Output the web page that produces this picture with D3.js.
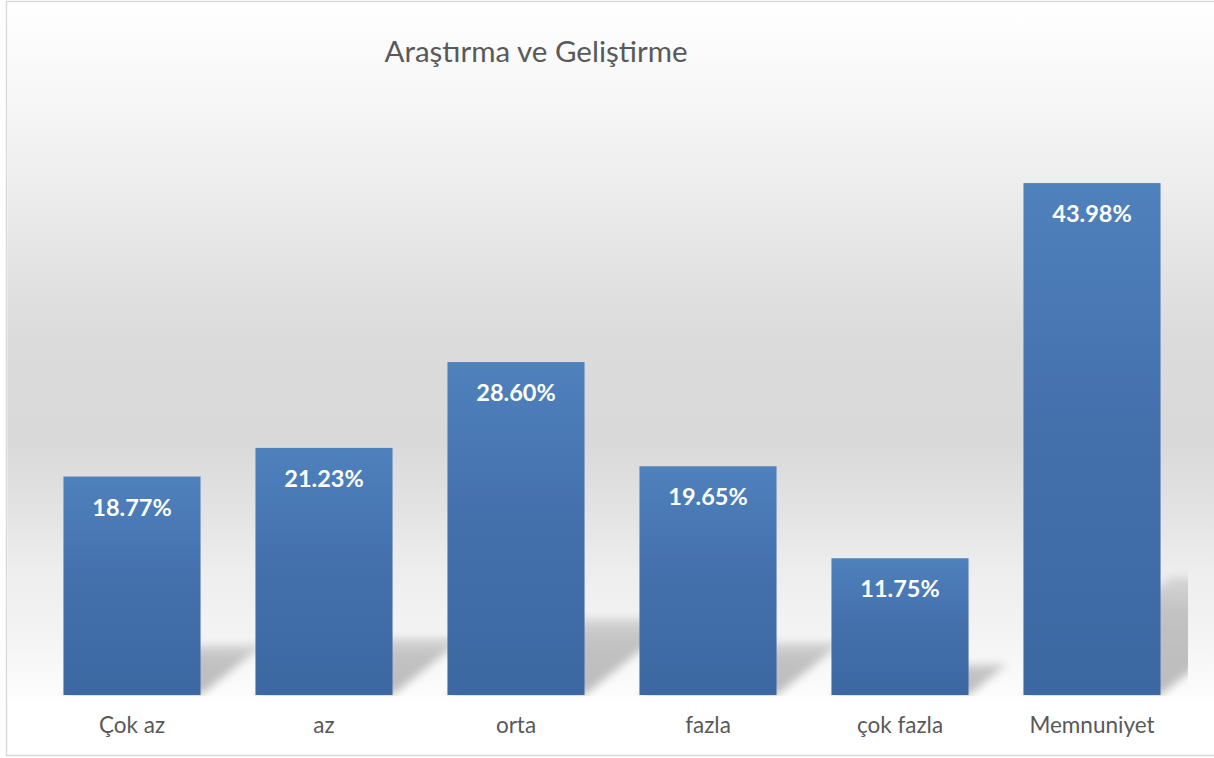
<!DOCTYPE html>
<html>
<head>
<meta charset="utf-8">
<script src="https://cdn.jsdelivr.net/npm/d3@7"></script>
<style>
  html, body { margin: 0; padding: 0; background: #fff; }
  svg { display: block; }
</style>
</head>
<body>
<svg id="chart" width="1214" height="758"></svg>
<script>
// chart data
const categories = ["Çok az", "az", "orta", "fazla", "çok fazla", "Memnuniyet"];
const values = [0.1877, 0.2123, 0.2860, 0.1965, 0.1175, 0.4398];
const title = "Araştırma ve Geliştirme";

const W = 1214, H = 758;
const svg = d3.select("#chart");
const defs = svg.append("defs");

// background wall gradient
const bg = defs.append("linearGradient").attr("id", "wall")
    .attr("x1", 0).attr("y1", 0).attr("x2", 0).attr("y2", 1);
[[0, "#ffffff"], [0.15, "#f6f6f6"], [0.3, "#eaeaea"], [0.48, "#dbdbdb"],
 [0.63, "#d9d9d9"], [0.72, "#e2e2e2"], [0.82, "#eeeeee"], [0.9, "#f3f3f3"], [1, "#fdfdfd"]]
  .forEach(([o, c]) => bg.append("stop").attr("offset", o).attr("stop-color", c));

// bar gradient
const bar = defs.append("linearGradient").attr("id", "barFill")
    .attr("x1", 0).attr("y1", 0).attr("x2", 0).attr("y2", 1);
bar.append("stop").attr("offset", 0).attr("stop-color", "#4f81bd");
bar.append("stop").attr("offset", 0.5).attr("stop-color", "#436fab");
bar.append("stop").attr("offset", 1).attr("stop-color", "#3c68a2");

// shadow fades a bit towards its far edge
const sh = defs.append("linearGradient").attr("id", "shadowFill")
    .attr("x1", 0).attr("y1", 1).attr("x2", 0).attr("y2", 0);
sh.append("stop").attr("offset", 0).attr("stop-color", "#bcbcbc");
sh.append("stop").attr("offset", 0.7).attr("stop-color", "#c2c2c2");
sh.append("stop").attr("offset", 1).attr("stop-color", "#d6d6d6");

defs.append("filter").attr("id", "blur")
    .attr("x", -0.3).attr("y", -0.3).attr("width", 1.6).attr("height", 1.6)
  .append("feGaussianBlur").attr("stdDeviation", 4);

defs.append("clipPath").attr("id", "plotClip")
  .append("rect").attr("x", 7).attr("y", 2).attr("width", 1181).attr("height", 694);

// frame and wall
svg.append("rect").attr("x", 6.5).attr("y", 1.5).attr("width", W).attr("height", 754)
    .attr("fill", "#fff").attr("stroke", "#d9d9d9").attr("stroke-width", 1.5);
svg.append("rect").attr("x", 7.5).attr("y", 2.5).attr("width", W).attr("height", 697)
    .attr("fill", "url(#wall)");

// scales
const x = d3.scaleBand().domain(categories).range([36, 1188])
    .paddingInner(0.286).paddingOuter(0.143);
const y = d3.scaleLinear().domain([0, 0.5]).range([695, 113]);

const data = categories.map((c, i) => ({ cat: c, val: values[i] }));

// perspective shadows
svg.append("g").attr("clip-path", "url(#plotClip)")
  .selectAll("path").data(data).join("path")
    .attr("fill", "url(#shadowFill)")
    .attr("filter", "url(#blur)")
    .attr("d", d => {
      const x0 = x(d.cat), x1 = x0 + x.bandwidth();
      const b = y(0), h = y(0) - y(d.val);
      const dy = 0.23 * h, dx = 1.25 * dy;
      return `M${x0},${b}L${x1},${b}L${x1 + dx},${b - dy}L${x0 + dx},${b - dy}Z`;
    });

// bars
svg.append("g").selectAll("rect").data(data).join("rect")
    .attr("x", d => x(d.cat))
    .attr("y", d => y(d.val))
    .attr("width", x.bandwidth())
    .attr("height", d => y(0) - y(d.val))
    .attr("fill", "url(#barFill)");

// value labels
const fmt = d3.format(".2%");
svg.append("g").selectAll("text").data(data).join("text")
    .attr("x", d => x(d.cat) + x.bandwidth() / 2)
    .attr("y", d => y(d.val) + 39)
    .attr("text-anchor", "middle")
    .attr("fill", "#ffffff")
    .style("font-family", "Lato, 'Open Sans', sans-serif")
    .style("font-weight", "bold")
    .style("font-size", "23.5px")
    .text(d => fmt(d.val));

// category axis labels
const xAxis = svg.append("g").attr("transform", `translate(0,${y(0)})`)
    .call(d3.axisBottom(x).tickSize(0).tickPadding(22));
xAxis.select(".domain").remove();
xAxis.selectAll("text")
    .attr("fill", "#595959")
    .style("font-family", "Lato, 'Open Sans', sans-serif")
    .style("font-size", "22.5px");

// title
svg.append("text")
    .attr("x", 536).attr("y", 62)
    .attr("text-anchor", "middle")
    .attr("fill", "#595959")
    .style("font-family", "Lato, 'Open Sans', sans-serif")
    .style("font-size", "29.5px")
    .text(title);
</script>
</body>
</html>
